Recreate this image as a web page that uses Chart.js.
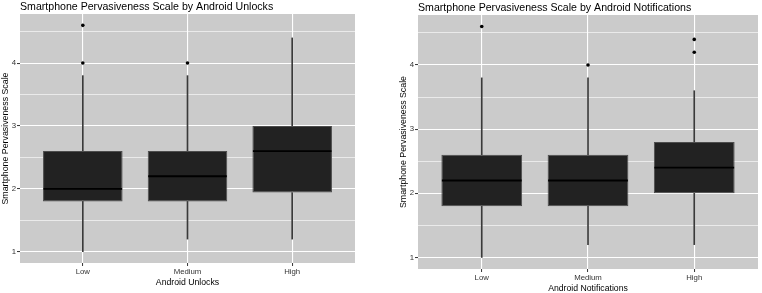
<!DOCTYPE html>
<html>
<head>
<meta charset="utf-8">
<script src="https://cdn.jsdelivr.net/npm/chart.js@4.4.1/dist/chart.umd.min.js"></script>
<style>
  html, body { margin: 0; padding: 0; background: #ffffff; }
  #wrap { position: relative; width: 762px; height: 293px; overflow: hidden; }
  #c1 { position: absolute; left: 0; top: 0; }
  #c2 { position: absolute; left: 381px; top: 0; }
</style>
</head>
<body>
<div id="wrap">
  <canvas id="c1" width="381" height="293"></canvas>
  <canvas id="c2" width="381" height="293"></canvas>
</div>
<script>
// ---- data ----
const categories = ['Low', 'Medium', 'High'];
const yTickValues = [1, 2, 3, 4];

const unlocksLowerWhisker = [1.0, 1.2, 1.2];
const unlocksQ1           = [1.8, 1.8, 1.94];
const unlocksMedian       = [2.0, 2.2, 2.6];
const unlocksQ3           = [2.6, 2.6, 3.0];
const unlocksUpperWhisker = [3.8, 3.8, 4.4];
const unlocksOutliers     = [[4.0, 4.6], [4.0], []];

const notifLowerWhisker = [1.0, 1.2, 1.2];
const notifQ1           = [1.8, 1.8, 2.0];
const notifMedian       = [2.2, 2.2, 2.4];
const notifQ3           = [2.6, 2.6, 2.8];
const notifUpperWhisker = [3.8, 3.8, 3.6];
const notifOutliers     = [[4.6], [4.0], [4.2, 4.4]];

const yMin = 0.82, yMax = 4.78;
const FONT = "'Liberation Sans', Arial, Helvetica, sans-serif";

const panelBg = {
  id: 'panelBg',
  beforeDraw(chart) {
    const { ctx, chartArea: a } = chart;
    ctx.save();
    ctx.fillStyle = '#ffffff';
    ctx.fillRect(0, 0, chart.width, chart.height);
    ctx.fillStyle = '#cbcbcb';
    ctx.fillRect(a.left, a.top, a.right - a.left, a.bottom - a.top);
    ctx.restore();
  }
};

function makeChart(canvasId, o) {
  const pts = (arr) => arr.map((v, i) => ({ x: i, y: v }));
  const ranges = (lo, hi) => lo.map((v, i) => ({ x: i, y: [v, hi[i]] }));
  const outlierPts = [];
  o.outliers.forEach((list, i) => list.forEach(v => outlierPts.push({ x: i, y: v })));

  return new Chart(document.getElementById(canvasId), {
    type: 'bar',
    data: {
      datasets: [
        { type: 'bar', data: ranges(o.lw, o.q1), grouped: false, barThickness: 1,
          backgroundColor: '#3a3a3a', borderWidth: 0, order: 5 },
        { type: 'bar', data: ranges(o.q3, o.uw), grouped: false, barThickness: 1,
          backgroundColor: '#3a3a3a', borderWidth: 0, order: 5 },
        { type: 'bar', data: ranges(o.q1, o.q3), grouped: false,
          barPercentage: 0.76, categoryPercentage: 1,
          backgroundColor: '#222222', borderColor: '#4d4d4d', borderWidth: 1,
          borderSkipped: false, order: 3 },
        { type: 'scatter', data: pts(o.med), showLine: false, pointStyle: 'line',
          pointRadius: (c) => { const s = c.chart.scales.x; return s.getPixelForValue(0.38) - s.getPixelForValue(0) - 0.5; },
          pointBorderWidth: 1.8, pointBorderColor: '#000000', pointBackgroundColor: '#000000', order: 2 },
        { type: 'scatter', data: outlierPts, pointStyle: 'circle', pointRadius: 1.8,
          pointBorderWidth: 0, pointBackgroundColor: '#000000', order: 1 }
      ]
    },
    plugins: [panelBg],
    options: {
      responsive: false,
      animation: false,
      events: [],
      layout: { padding: o.pad },
      plugins: {
        legend: { display: false },
        tooltip: { enabled: false },
        title: {
          display: true, text: o.title, align: 'start', fullSize: false,
          color: '#000000', font: { family: FONT, size: 10.6, weight: 'normal' },
          padding: o.titlePad
        }
      },
      scales: {
        x: {
          type: 'linear', min: -0.6, max: 2.6, offset: false,
          afterBuildTicks: (s) => { s.ticks = categories.map((_, i) => ({ value: i })); },
          afterFit: (s) => { s.height = o.xHeight; },
          ticks: { callback: (v) => categories[v], color: '#333333', padding: 1,
                   maxRotation: 0, autoSkip: false, font: { family: FONT, size: 7.8 } },
          grid: { offset: false, color: '#ffffff', lineWidth: 1.1, tickLength: 3, tickColor: '#333333', tickWidth: 1 },
          border: { display: false },
          title: { display: true, text: o.xTitle, color: '#000000',
                   font: { family: FONT, size: 8.7, lineHeight: o.xTitleLH }, padding: { top: 0, bottom: o.xTitlePadB } }
        },
        y: {
          type: 'linear', min: yMin, max: yMax,
          afterBuildTicks: (s) => {
            const t = [];
            yTickValues.forEach(v => { t.push({ value: v }); t.push({ value: v + 0.5 }); });
            s.ticks = t;
          },
          afterFit: (s) => { s.width = 20; },
          ticks: { callback: (v) => (yTickValues.includes(v) ? String(v) : ''), color: '#333333',
                   padding: 1, autoSkip: false, font: { family: FONT, size: 7.8 } },
          grid: {
            color: '#ffffff',
            lineWidth: (c) => (c.tick && yTickValues.includes(c.tick.value) ? 1.1 : 0.6),
            tickLength: 3,
            tickColor: (c) => (c.tick && yTickValues.includes(c.tick.value) ? '#333333' : 'rgba(0,0,0,0)'),
            tickWidth: 1
          },
          border: { display: false },
          title: { display: true, text: 'Smartphone Pervasiveness Scale', color: '#000000',
                   font: { family: FONT, size: 8.8 }, padding: { top: 0.5, bottom: 0 } }
        }
      }
    }
  });
}

makeChart('c1', {
  title: 'Smartphone Pervasiveness Scale by Android Unlocks',
  xTitle: 'Android Unlocks',
  lw: unlocksLowerWhisker, q1: unlocksQ1, med: unlocksMedian, q3: unlocksQ3, uw: unlocksUpperWhisker,
  outliers: unlocksOutliers,
  pad: { left: 0, right: 26, top: 0, bottom: 0 },
  titlePad: { top: 0.5, bottom: 0.8 },
  xHeight: 30, xTitleLH: 1.2, xTitlePadB: 5.2
});

makeChart('c2', {
  title: 'Smartphone Pervasiveness Scale by Android Notifications',
  xTitle: 'Android Notifications',
  lw: notifLowerWhisker, q1: notifQ1, med: notifMedian, q3: notifQ3, uw: notifUpperWhisker,
  outliers: notifOutliers,
  pad: { left: 17, right: 2, top: 0, bottom: 0 },
  titlePad: { top: 1.5, bottom: 0.8 },
  xHeight: 24, xTitleLH: 1.0, xTitlePadB: 0.5
});
</script>
</body>
</html>
